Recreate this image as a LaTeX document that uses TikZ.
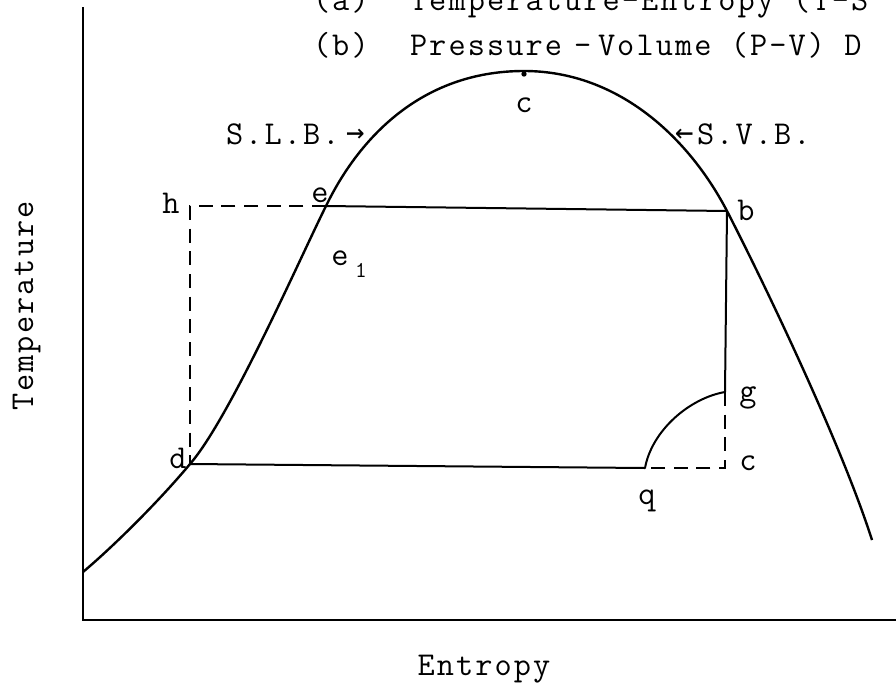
\documentclass[tikz,border=0pt]{standalone}
\usepackage{fontspec}
\newfontfamily\tw{Latin Modern Mono}[LetterSpace=6.3]
\newfontfamily\arw{DejaVu Sans Mono}
\begin{document}
\begin{tikzpicture}[x=0.75pt,y=-0.75pt,
  txt/.style={font=\tw\fontsize{25}{28}\selectfont, inner sep=0pt, outer sep=0pt, anchor=base},
  subtxt/.style={font=\tw\fontsize{17}{18}\selectfont, inner sep=0pt, outer sep=0pt, anchor=base},
  arrowtxt/.style={font=\arw\fontsize{23}{24}\selectfont, inner sep=0pt, outer sep=0pt, anchor=base},
  axisline/.style={line width=2pt},
  domeline/.style={line width=1.8pt, line join=round},
  procline/.style={line width=1.5pt, line join=round},
  dashline/.style={line width=1.4pt, dash pattern=on 10.5pt off 6.5pt}]
\useasboundingbox (0,0) rectangle (896,686);
\begin{scope}
\clip (0,0) rectangle (896,686);
\node[txt, anchor=base west] (ta1) at (313,10) {(a)};
\node[txt, anchor=base west] (ta2) at (410,10) {Temperature-Entropy (T-S};
\end{scope}
\node[txt, anchor=base west] (tb1) at (313,55) {(b)};
\node[txt, anchor=base west] (tb2) at (410,55) {Pressure};
\node[txt, anchor=base west] (tb3) at (574,55) {-};
\node[txt, anchor=base west] (tb4) at (598,55) {Volume (P-V) D};
% axes
\coordinate (O) at (83,620);
\coordinate (ytop) at (83,7);
\coordinate (xend) at (896,620);
\draw[axisline] (ytop) -- (O) -- (xend);
% points
\coordinate (start) at (83,572);
\coordinate (d) at (190,464);
\coordinate (e) at (326,206);
\coordinate (top) at (524,71);
\coordinate (b) at (727,211);
\coordinate (send) at (872,540);
\coordinate (g) at (725,392);
\coordinate (q) at (645,468);
\coordinate (c) at (725,468);
\coordinate (h) at (190,206);
% saturation dome
\draw[domeline] (start) .. controls (115,545) and (160,500) .. (d)
  .. controls (230,418) and (301,256) .. (e)
  .. controls (358,140) and (420,71) .. (top)
  .. controls (620,71) and (690,140) .. (b)
  .. controls (760,275) and (840,440) .. (send);
\fill (524,74) circle[radius=2pt];
% cycle
\draw[procline] (e) -- (b) -- (g) .. controls (690,398) and (652,430) .. (q) -- (d);
\draw[dashline] (e) -- (h) -- (d);
\draw[dashline] (g) -- (c) -- (q);
% labels
\node[txt] (lc) at (524,112) {c};
\node[txt, anchor=base west] (lslb) at (226,144) {S.L.B.};
\node[arrowtxt, anchor=base west] (aslb) at (346,142) {→};
\node[arrowtxt, anchor=base west] (asvb) at (675,142) {←};
\node[txt, anchor=base west] (lsvb) at (697,144) {S.V.B.};
\node[txt] (lh) at (171,213) {h};
\node[txt] (le) at (320,202) {e};
\node[txt] (le1) at (340,265) {e};
\node[subtxt] (le1s) at (361,277) {1};
\node[txt] (lb) at (746,220) {b};
\node[txt] (lg) at (748,401) {g};
\node[txt] (lcc) at (748,470) {c};
\node[txt] (ld) at (178,468) {d};
\node[txt] (lq) at (647,504) {q};
\node[txt, rotate=90] (ytitle) at (33,306) {Temperature};
\node[txt] (xtitle) at (484,675) {Entropy};
\end{tikzpicture}
\end{document}
